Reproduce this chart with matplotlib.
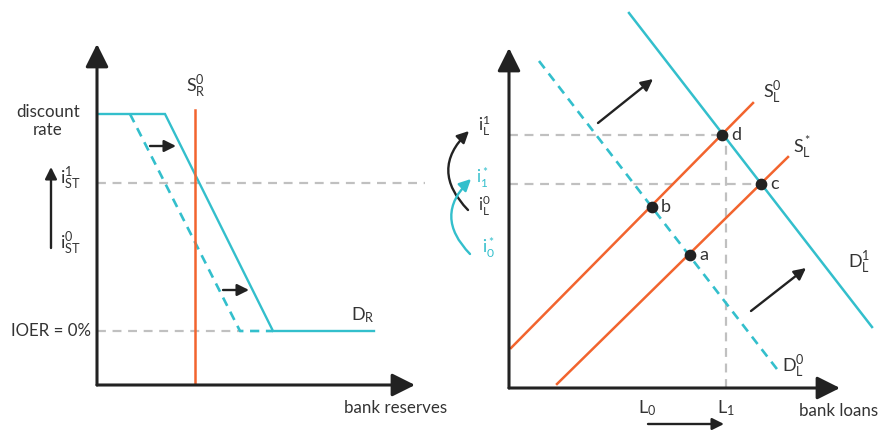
import matplotlib
matplotlib.use('Agg')
from matplotlib import pyplot as plt

plt.rcParams['font.family'] = ['Lato', 'DejaVu Sans']
plt.rcParams['mathtext.fontset'] = 'custom'
plt.rcParams['mathtext.rm'] = 'Lato'
plt.rcParams['mathtext.it'] = 'Lato'

TEAL = '#33bfcc'
ORANGE = '#f2642e'
GRAY = '#c0c0c0'
INK = '#222222'
TEXT = '#333333'

# left panel: reserves market (units measured from the axis corner)
discount_rate = 271
ioer_rate = 54
i_st1 = 202
dr_x = [0, 68, 176, 277]
dr_y = [discount_rate, discount_rate, ioer_rate, ioer_rate]
dr_old_x = [33, 143, 176]
dr_old_y = [discount_rate, ioer_rate, ioer_rate]
sr_x = [98, 98]
sr_y = [0, 275]

# right panel: loan market
dl1_x = [120, 363]
dl1_y = [375, 61]
dl0_x = [30, 271]
dl0_y = [327, 15]
sl0_x = [2, 244]
sl0_y = [40, 285]
sl1_x = [48, 279]
sl1_y = [4, 231]
pt_names = ['d', 'c', 'b', 'a']
pt_x = [213, 252, 143, 181]
pt_y = [253, 204, 181, 133]
L0 = 138
L1 = 217

fig = plt.figure(figsize=(8.83, 4.3), dpi=100)
W, H = 883, 430


def panel(x0, y0, w, h):
    ax = fig.add_axes([x0 / W, (H - y0) / H, w / W, h / H])
    ax.set_xlim(0, w)
    ax.set_ylim(0, h)
    ax.axis('off')
    return ax


def arrow(ax, start, end, color=INK, lw=1.7, head=8, rad=0.0):
    ax.annotate('', xy=end, xytext=start, annotation_clip=False,
                arrowprops=dict(arrowstyle=f'-|>,head_length={head / 10},head_width={head / 20}',
                                color=color, lw=lw, shrinkA=0, shrinkB=0,
                                connectionstyle=f'arc3,rad={rad}'))


def label(ax, x, y, s, color=TEXT, size=12, ha='center'):
    ax.text(x, y, s, color=color, fontsize=size, ha=ha, va='center', clip_on=False)


# ---- left
axl = panel(97, 385, 330, 345)
axl.plot([0, 328], [i_st1, i_st1], color=GRAY, lw=1.6, ls=(0, (4, 3)), clip_on=False)
axl.plot([0, dr_old_x[1]], [ioer_rate, ioer_rate], color=GRAY, lw=1.6, ls=(0, (4, 3)))
axl.plot(dr_x, dr_y, color=TEAL, lw=1.7, solid_joinstyle='miter')
axl.plot(dr_old_x, dr_old_y, color=TEAL, lw=1.9, ls=(0, (3.5, 2.5)))
axl.plot(sr_x, sr_y, color=ORANGE, lw=1.8)
arrow(axl, (0, 0), (0, 341), lw=2.2, head=14)
arrow(axl, (0, 0), (318, 0), lw=2.2, head=14)
arrow(axl, (53, 239), (79, 239), head=7)
arrow(axl, (126, 95), (152, 95), head=7)
arrow(axl, (-46, 137), (-46, 218), head=7)

label(axl, -49, 264, 'discount\nrate', size=12.2)
label(axl, -27, 206, r'$\mathrm{i_{ST}^1}$', size=13)
label(axl, -27, 141, r'$\mathrm{i_{ST}^0}$', size=13)
label(axl, -6, 54, 'IOER = 0%', size=12.2, ha='right')
label(axl, 99, 298, r'$\mathrm{S_R^0}$', size=13)
label(axl, 266, 70, r'$\mathrm{D_R}$', size=13)
label(axl, 299, -23, 'bank reserves', size=12.2)

# ---- right
axr = panel(509, 388, 374, 388)
axr.plot([0, pt_x[0]], [pt_y[0], pt_y[0]], color=GRAY, lw=1.6, ls=(0, (4, 3)))
axr.plot([0, pt_x[1]], [pt_y[1], pt_y[1]], color=GRAY, lw=1.6, ls=(0, (4, 3)))
axr.plot([L1, L1], [0, pt_y[0]], color=GRAY, lw=1.6, ls=(0, (4, 3)))
axr.plot(dl1_x, dl1_y, color=TEAL, lw=1.8, clip_on=False)
axr.plot(dl0_x, dl0_y, color=TEAL, lw=1.9, ls=(0, (3.5, 2.5)))
axr.plot(sl0_x, sl0_y, color=ORANGE, lw=1.8)
axr.plot(sl1_x, sl1_y, color=ORANGE, lw=1.8)
axr.scatter(pt_x, pt_y, s=55, color=INK, zorder=5)
for name, x, y in zip(pt_names, pt_x, pt_y):
    label(axr, x + 9, y, name, size=13, ha='left')

arrow(axr, (0, 0), (0, 340), lw=2.2, head=14)
arrow(axr, (0, 0), (331, 0), lw=2.2, head=14)
arrow(axr, (89, 265), (144, 309), head=7)
arrow(axr, (242, 77), (297, 120), head=7)
arrow(axr, (139, -36), (215, -36), head=7)
arrow(axr, (-41, 178), (-40, 257), head=7, rad=-0.5)
arrow(axr, (-39, 134), (-38, 209), color=TEAL, head=7, rad=-0.5)

label(axr, -25, 262, r'$\mathrm{i_L^1}$', size=12.5)
label(axr, -27, 210, r'$\mathrm{i_1^*}$', color=TEAL, size=12)
label(axr, -25, 182, r'$\mathrm{i_L^0}$', size=12)
label(axr, -21, 140, r'$\mathrm{i_0^*}$', color=TEAL, size=12.5)
label(axr, 263, 295, r'$\mathrm{S_L^0}$', size=13)
label(axr, 293, 240, r'$\mathrm{S_L^*}$', size=13)
label(axr, 350, 125, r'$\mathrm{D_L^1}$', size=13)
label(axr, 284, 21, r'$\mathrm{D_L^0}$', size=13)
label(axr, L0, -20, r'$\mathrm{L_0}$', size=13)
label(axr, L1, -20, r'$\mathrm{L_1}$', size=13)
label(axr, 290, -23, 'bank loans', size=12.2, ha='left')

fig.savefig('out.png', dpi=100, facecolor='white')
